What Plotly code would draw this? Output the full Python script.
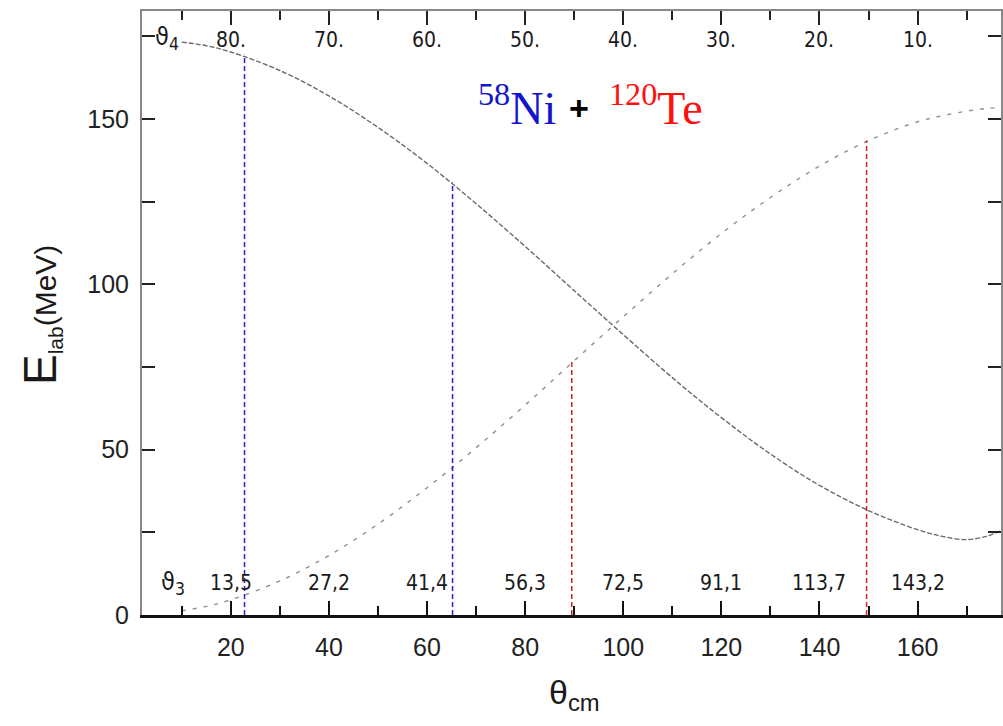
import plotly.graph_objects as go

# ---------------- data ----------------
theta_cm = [10, 15, 20, 30, 40, 50, 60, 70, 80, 90, 100, 110, 120, 130,
            140, 150, 160, 165, 170, 174, 177]
e_ni = [173.3, 172.2, 170.3, 164.7, 157.0, 147.5, 136.6, 124.4, 111.5, 98.1,
        84.8, 71.8, 59.7, 48.7, 39.2, 31.6, 25.8, 23.8, 22.8, 23.8, 25.5]
e_te = [1.3, 2.6, 4.6, 10.3, 18.0, 27.5, 38.5, 50.6, 63.5, 76.9, 90.2,
        103.2, 115.4, 126.3, 135.8, 143.5, 149.2, 151.0, 152.4, 153.2, 153.5]

label_theta = [20, 40, 60, 80, 100, 120, 140, 160]
theta4_labels = ["80.", "70.", "60.", "50.", "40.", "30.", "20.", "10."]
theta3_labels = ["13,5", "27,2", "41,4", "56,3", "72,5", "91,1", "113,7", "143,2"]

blue_theta = [22.8, 65.2]
blue_top = [169.5, 130.8]
red_theta = [89.5, 149.6]
red_top = [77.0, 143.5]

# ---------------- figure ----------------
fig = go.Figure()

fig.add_trace(go.Scatter(x=theta_cm, y=e_ni, mode="lines", line_shape="spline",
                         line=dict(color="#6a6a6a", width=1.4, dash="5px,2px"),
                         hoverinfo="skip", showlegend=False))
fig.add_trace(go.Scatter(x=theta_cm, y=e_te, mode="lines", line_shape="spline",
                         line=dict(color="#8f8f8f", width=1.4, dash="4px,7px"),
                         hoverinfo="skip", showlegend=False))

for th, top in zip(blue_theta, blue_top):
    fig.add_trace(go.Scatter(x=[th, th], y=[0, top], mode="lines",
                             line=dict(color="#2222cc", width=1.5, dash="5px,3px"),
                             hoverinfo="skip", showlegend=False))
for th, top in zip(red_theta, red_top):
    fig.add_trace(go.Scatter(x=[th, th], y=[0, top], mode="lines",
                             line=dict(color="#e02020", width=1.5, dash="5px,3px"),
                             hoverinfo="skip", showlegend=False))

# invisible trace to carry the top axis
fig.add_trace(go.Scatter(x=[50], y=[50], xaxis="x2", mode="markers",
                         marker=dict(opacity=0), hoverinfo="skip", showlegend=False))

xr = [1.9, 177.0]
tickfont = dict(family="Liberation Sans, Arial, sans-serif", size=25, color="#222")

fig.update_layout(
    width=1003, height=726,
    margin=dict(l=142, r=0, t=11, b=111),
    paper_bgcolor="white", plot_bgcolor="white",
    xaxis=dict(range=xr, tick0=0, dtick=20, ticks="inside", ticklen=14,
               tickwidth=2, tickcolor="#111", showline=True, linecolor="#111",
               linewidth=3, showgrid=False, zeroline=False, tickfont=tickfont,
               ticklabelstandoff=8,
               minor=dict(tick0=0, dtick=10, ticks="inside", ticklen=9,
                          tickwidth=2, tickcolor="#111", showgrid=False)),
    xaxis2=dict(range=xr, overlaying="x", side="top", matches="x", tick0=0,
                dtick=20, ticks="inside", ticklen=14, tickwidth=2,
                tickcolor="#222", showline=True, linecolor="#888", linewidth=2,
                showgrid=False, zeroline=False, showticklabels=False,
                minor=dict(tick0=0, dtick=10, ticks="inside", ticklen=9,
                           tickwidth=2, tickcolor="#222", showgrid=False)),
    yaxis=dict(range=[0, 182.7], tick0=0, dtick=50, ticks="inside", ticklen=13,
               tickwidth=2, tickcolor="#222", showline=True, linecolor="#888",
               linewidth=2, mirror="allticks", showgrid=False, zeroline=False,
               tickfont=tickfont, ticklabelstandoff=6,
               minor=dict(tick0=0, dtick=25, ticks="inside", ticklen=8,
                          tickwidth=2, tickcolor="#222", showgrid=False)),
)

small = dict(family="Liberation Sans Narrow, DejaVu Sans Condensed, sans-serif",
             size=21, color="#1a1a1a")
anns = []
for x, t4, t3 in zip(label_theta, theta4_labels, theta3_labels):
    anns.append(dict(x=x, y=173.9, text=t4, showarrow=False, font=small,
                     xanchor="center", yanchor="middle"))
    anns.append(dict(x=x, y=9.7, text=t3, showarrow=False, font=small,
                     xanchor="center", yanchor="middle"))

sym = dict(family="DejaVu Sans Condensed, DejaVu Sans, sans-serif", size=25, color="#1a1a1a")
anns.append(dict(x=6.9, y=174.5, text="ϑ<sub>4</sub>", showarrow=False, font=sym,
                 xanchor="center", yanchor="middle"))
anns.append(dict(x=8.2, y=9.7, text="ϑ<sub>3</sub>", showarrow=False, font=sym,
                 xanchor="center", yanchor="middle"))

# title pieces
serif = "Liberation Serif, Times New Roman, serif"
anns.append(dict(xref="paper", yref="paper", x=0.389, y=0.845, xanchor="left",
                 yanchor="middle", showarrow=False, text="<sup>58</sup>Ni",
                 font=dict(family=serif, size=46, color="#1414cc")))
anns.append(dict(xref="paper", yref="paper", x=0.509, y=0.839, xanchor="center",
                 yanchor="middle", showarrow=False, text="<b>+</b>",
                 font=dict(family="Liberation Sans, Arial, sans-serif", size=34,
                           color="black")))
anns.append(dict(xref="paper", yref="paper", x=0.541, y=0.845, xanchor="left",
                 yanchor="middle", showarrow=False, text="<sup>120</sup>Te",
                 font=dict(family=serif, size=46, color="#ff1010")))

# axis titles
anns.append(dict(
    xref="paper", yref="paper", x=-0.1185, y=0.497, xanchor="center", yanchor="middle",
    textangle=-90, showarrow=False,
    text="<span style='font-size:46px'>E</span><sub>lab</sub>(MeV)",
    font=dict(family="Liberation Sans, Arial, sans-serif", size=30, color="#1a1a1a")))
anns.append(dict(
    xref="paper", yref="paper", x=0.503, y=-0.132, xanchor="center", yanchor="middle",
    showarrow=False,
    text="θ<sub>cm</sub>",
    font=dict(family="Liberation Sans, Arial, sans-serif", size=34, color="#1a1a1a")))

fig.update_layout(annotations=anns)

fig.write_html("out.html")
